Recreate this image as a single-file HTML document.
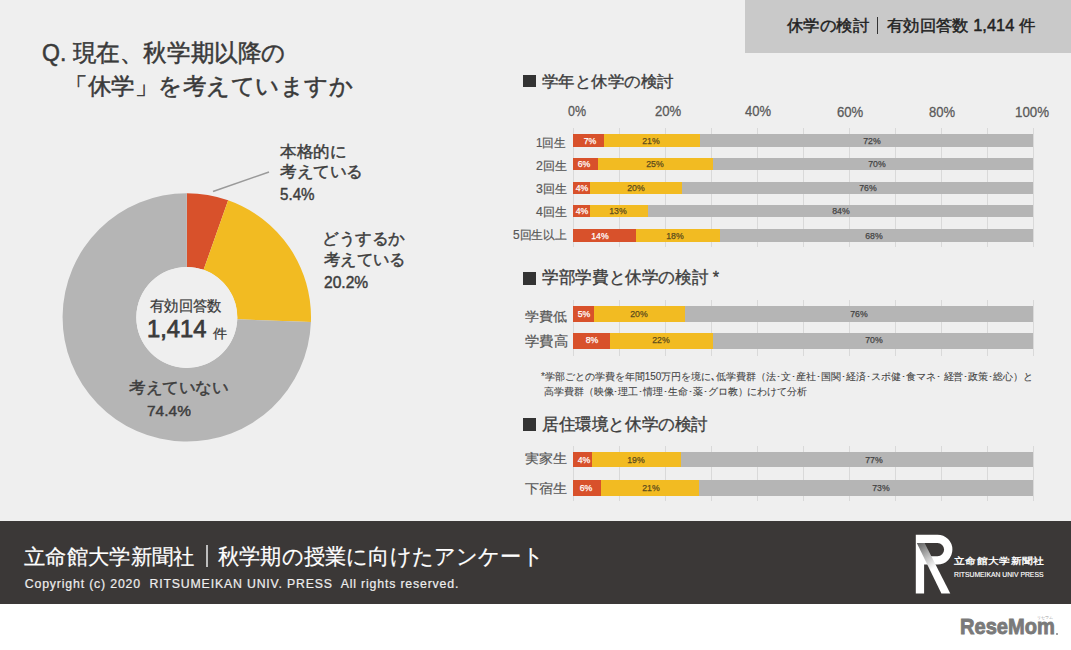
<!DOCTYPE html>
<html lang="ja"><head><meta charset="utf-8">
<style>
html,body{margin:0;padding:0}
body{width:1071px;height:650px;position:relative;overflow:hidden;background:#fff;font-family:"Liberation Sans",sans-serif;color:#3d3d3d}
.abs{position:absolute}
.tx{position:absolute;white-space:nowrap;line-height:1.3;transform-origin:0 0}
#main{position:absolute;left:0;top:0;width:1071px;height:521px;background:#efefef}
#hdr{}
.gl{position:absolute;width:1px;background:#d9d9d9}
.bar{position:absolute;left:573.3px;width:460.20px}
.seg{position:absolute;top:0;height:100%}
.bl{position:absolute;width:60px;text-align:center;white-space:nowrap;font-size:9.4px;transform:scaleX(0.93);-webkit-text-stroke:0.25px currentColor}
.r{background:#d8512b}
.y{background:#f2bb22}
.g{background:#b5b5b5}
.rt{color:#fff}
.yt{color:#5c4b1c}
.gt{color:#444}
.sq{position:absolute;left:523px;width:13px;height:12.6px;background:#333}
#foot{position:absolute;left:0;top:521px;width:1071px;height:82.5px;background:#3b3837}
</style></head><body>
<div id="main"></div>
<div class="abs" style="left:745px;top:0;width:326px;height:53px;background:#c9c9c9"></div>
<svg class="abs" style="left:0;top:0" width="1071" height="650"><path d="M186.80,193.20 A124.2,124.2 0 0 1 228.14,200.28 L203.61,269.78 A50.5,50.5 0 0 0 186.80,266.90 Z" fill="#d8512b"/><path d="M228.14,200.28 A124.2,124.2 0 0 1 310.91,322.08 L237.26,319.30 A50.5,50.5 0 0 0 203.61,269.78 Z" fill="#f2bb22"/><path d="M310.91,322.08 A124.2,124.2 0 1 1 186.80,193.20 L186.80,266.90 A50.5,50.5 0 1 0 237.26,319.30 Z" fill="#b5b5b5"/><circle cx="186.8" cy="317.4" r="50.5" fill="#efefef"/><line x1="213" y1="191.5" x2="269" y2="172" stroke="#9a9a9a" stroke-width="1.6"/></svg>
<div class="sq" style="top:74.5px"></div>
<div class="sq" style="top:272px"></div>
<div class="sq" style="top:418px"></div>
<div class="gl" style="left:572.80px;top:128.4px;height:118.8px"></div><div class="gl" style="left:618.82px;top:128.4px;height:118.8px"></div><div class="gl" style="left:664.84px;top:128.4px;height:118.8px"></div><div class="gl" style="left:710.86px;top:128.4px;height:118.8px"></div><div class="gl" style="left:756.88px;top:128.4px;height:118.8px"></div><div class="gl" style="left:802.90px;top:128.4px;height:118.8px"></div><div class="gl" style="left:848.92px;top:128.4px;height:118.8px"></div><div class="gl" style="left:894.94px;top:128.4px;height:118.8px"></div><div class="gl" style="left:940.96px;top:128.4px;height:118.8px"></div><div class="gl" style="left:986.98px;top:128.4px;height:118.8px"></div><div class="gl" style="left:1033.00px;top:128.4px;height:118.8px"></div>
<div class="gl" style="left:572.80px;top:300.0px;height:55.8px"></div><div class="gl" style="left:618.82px;top:300.0px;height:55.8px"></div><div class="gl" style="left:664.84px;top:300.0px;height:55.8px"></div><div class="gl" style="left:710.86px;top:300.0px;height:55.8px"></div><div class="gl" style="left:756.88px;top:300.0px;height:55.8px"></div><div class="gl" style="left:802.90px;top:300.0px;height:55.8px"></div><div class="gl" style="left:848.92px;top:300.0px;height:55.8px"></div><div class="gl" style="left:894.94px;top:300.0px;height:55.8px"></div><div class="gl" style="left:940.96px;top:300.0px;height:55.8px"></div><div class="gl" style="left:986.98px;top:300.0px;height:55.8px"></div><div class="gl" style="left:1033.00px;top:300.0px;height:55.8px"></div>
<div class="gl" style="left:572.80px;top:445.7px;height:55.7px"></div><div class="gl" style="left:618.82px;top:445.7px;height:55.7px"></div><div class="gl" style="left:664.84px;top:445.7px;height:55.7px"></div><div class="gl" style="left:710.86px;top:445.7px;height:55.7px"></div><div class="gl" style="left:756.88px;top:445.7px;height:55.7px"></div><div class="gl" style="left:802.90px;top:445.7px;height:55.7px"></div><div class="gl" style="left:848.92px;top:445.7px;height:55.7px"></div><div class="gl" style="left:894.94px;top:445.7px;height:55.7px"></div><div class="gl" style="left:940.96px;top:445.7px;height:55.7px"></div><div class="gl" style="left:986.98px;top:445.7px;height:55.7px"></div><div class="gl" style="left:1033.00px;top:445.7px;height:55.7px"></div>
<div class="bar" style="top:134.40px;height:12.30px"><div class="seg r" style="left:0.00px;width:30.50px"></div><div class="seg y" style="left:30.50px;width:96.60px"></div><div class="seg g" style="left:127.10px;width:333.10px"></div></div><div class="bl rt" style="left:559.60px;top:135.10px;height:12.30px;line-height:12.30px">7%</div><div class="bl yt" style="left:620.50px;top:135.10px;height:12.30px;line-height:12.30px">21%</div><div class="bl gt" style="left:841.90px;top:135.10px;height:12.30px;line-height:12.30px">72%</div><div class="bar" style="top:157.50px;height:12.30px"><div class="seg r" style="left:0.00px;width:24.70px"></div><div class="seg y" style="left:24.70px;width:115.40px"></div><div class="seg g" style="left:140.10px;width:320.10px"></div></div><div class="bl rt" style="left:553.90px;top:158.20px;height:12.30px;line-height:12.30px">6%</div><div class="bl yt" style="left:625.30px;top:158.20px;height:12.30px;line-height:12.30px">25%</div><div class="bl gt" style="left:847.40px;top:158.20px;height:12.30px;line-height:12.30px">70%</div><div class="bar" style="top:181.50px;height:12.50px"><div class="seg r" style="left:0.00px;width:16.90px"></div><div class="seg y" style="left:16.90px;width:92.30px"></div><div class="seg g" style="left:109.20px;width:351.00px"></div></div><div class="bl rt" style="left:551.60px;top:182.20px;height:12.50px;line-height:12.50px">4%</div><div class="bl yt" style="left:606.20px;top:182.20px;height:12.50px;line-height:12.50px">20%</div><div class="bl gt" style="left:838.10px;top:182.20px;height:12.50px;line-height:12.50px">76%</div><div class="bar" style="top:204.50px;height:12.50px"><div class="seg r" style="left:0.00px;width:16.90px"></div><div class="seg y" style="left:16.90px;width:57.80px"></div><div class="seg g" style="left:74.70px;width:385.50px"></div></div><div class="bl rt" style="left:551.60px;top:205.20px;height:12.50px;line-height:12.50px">4%</div><div class="bl yt" style="left:588.30px;top:205.20px;height:12.50px;line-height:12.50px">13%</div><div class="bl gt" style="left:810.50px;top:205.20px;height:12.50px;line-height:12.50px">84%</div><div class="bar" style="top:228.50px;height:13.00px"><div class="seg r" style="left:0.00px;width:62.30px"></div><div class="seg y" style="left:62.30px;width:84.50px"></div><div class="seg g" style="left:146.80px;width:313.40px"></div></div><div class="bl rt" style="left:570.40px;top:229.20px;height:13.00px;line-height:13.00px">14%</div><div class="bl yt" style="left:644.90px;top:229.20px;height:13.00px;line-height:13.00px">18%</div><div class="bl gt" style="left:844.30px;top:229.20px;height:13.00px;line-height:13.00px">68%</div>
<div class="bar" style="top:306.00px;height:15.70px"><div class="seg r" style="left:0.00px;width:20.90px"></div><div class="seg y" style="left:20.90px;width:90.40px"></div><div class="seg g" style="left:111.30px;width:348.90px"></div></div><div class="bl rt" style="left:554.20px;top:305.50px;height:15.70px;line-height:15.70px">5%</div><div class="bl yt" style="left:608.50px;top:305.50px;height:15.70px;line-height:15.70px">20%</div><div class="bl gt" style="left:828.80px;top:305.50px;height:15.70px;line-height:15.70px">76%</div><div class="bar" style="top:332.90px;height:15.70px"><div class="seg r" style="left:0.00px;width:36.70px"></div><div class="seg y" style="left:36.70px;width:103.40px"></div><div class="seg g" style="left:140.10px;width:320.10px"></div></div><div class="bl rt" style="left:562.10px;top:332.40px;height:15.70px;line-height:15.70px">8%</div><div class="bl yt" style="left:631.40px;top:332.40px;height:15.70px;line-height:15.70px">22%</div><div class="bl gt" style="left:844.20px;top:332.40px;height:15.70px;line-height:15.70px">70%</div>
<div class="bar" style="top:451.80px;height:15.70px"><div class="seg r" style="left:0.00px;width:18.30px"></div><div class="seg y" style="left:18.30px;width:89.90px"></div><div class="seg g" style="left:108.20px;width:352.00px"></div></div><div class="bl rt" style="left:553.80px;top:452.10px;height:15.70px;line-height:15.70px">4%</div><div class="bl yt" style="left:606.30px;top:452.10px;height:15.70px;line-height:15.70px">19%</div><div class="bl gt" style="left:844.20px;top:452.10px;height:15.70px;line-height:15.70px">77%</div><div class="bar" style="top:480.00px;height:15.70px"><div class="seg r" style="left:0.00px;width:27.70px"></div><div class="seg y" style="left:27.70px;width:97.80px"></div><div class="seg g" style="left:125.50px;width:334.70px"></div></div><div class="bl rt" style="left:556.20px;top:480.30px;height:15.70px;line-height:15.70px">6%</div><div class="bl yt" style="left:620.50px;top:480.30px;height:15.70px;line-height:15.70px">21%</div><div class="bl gt" style="left:851.40px;top:480.30px;height:15.70px;line-height:15.70px">73%</div>
<div id="foot"></div>
<div class="abs" style="left:877px;top:17px;width:1.2px;height:16.8px;background:#333"></div>
<div class="abs" style="left:206.3px;top:545px;width:1.5px;height:21.8px;background:#bdbdbd"></div>
<div class="abs" style="left:1037px;top:615px;font-size:4px;line-height:5px;color:#999;white-space:nowrap">リセマム</div>
<div class="abs" style="left:1055.8px;top:633.2px;width:2.3px;height:2.3px;border-radius:1px;background:#858585"></div>
<svg class="abs" style="left:905px;top:525px" width="150" height="75">
<defs><linearGradient id="lg" gradientUnits="userSpaceOnUse" x1="12" y1="18" x2="30" y2="42"><stop offset="0" stop-color="#606060"/><stop offset="1" stop-color="#fff"/></linearGradient></defs>
<path d="M10.8,9.7 h21.7 a14.9,14.9 0 0 1 0,29.8 h-13.4 v-8.3 h13.4 a6.6,6.6 0 0 0 0,-13.2 h-13.4 v50.6 h-8.3 z" fill="#fff"/>
<path d="M11.8,18 h7.8 l25.7,50.6 h-8.9 z" fill="url(#lg)"/>
</svg>
<div class="tx" id="hdr1" style="left:787.00px;top:15.12px;font-size:16.03px;transform:scaleX(1.0252);color:#222;-webkit-text-stroke:0.45px #222">休学の検討</div>
<div class="tx" id="hdr2" style="left:887.20px;top:15.06px;font-size:16.13px;transform:scaleX(1.0206);color:#222;-webkit-text-stroke:0.45px #222">有効回答数 1,414 件</div>
<div class="tx" id="t1" style="left:42.19px;top:38.36px;font-size:23.52px;transform:scaleX(0.9817);color:#3a3a3a;-webkit-text-stroke:0.5px #3a3a3a">Q. 現在、秋学期以降の</div>
<div class="tx" id="t2" style="left:64.44px;top:70.91px;font-size:23.46px;transform:scaleX(1.0224);color:#3a3a3a;-webkit-text-stroke:0.5px #3a3a3a">「休学」を考えていますか</div>
<div class="tx" id="l1a" style="left:279.98px;top:142.31px;font-size:16.01px;transform:scaleX(1.0317);color:#3d3d3d;-webkit-text-stroke:0.45px #3d3d3d">本格的に</div>
<div class="tx" id="l1b" style="left:279.98px;top:160.75px;font-size:16.10px;transform:scaleX(1.0385);color:#3d3d3d;-webkit-text-stroke:0.45px #3d3d3d">考えている</div>
<div class="tx" id="l1c" style="left:280.00px;top:184.00px;font-size:16.50px;transform:scaleX(0.9189);color:#3d3d3d;-webkit-text-stroke:0.45px #3d3d3d">5.4%</div>
<div class="tx" id="l2a" style="left:322.16px;top:228.06px;font-size:16.26px;transform:scaleX(1.0385);color:#3d3d3d;-webkit-text-stroke:0.45px #3d3d3d">どうするか</div>
<div class="tx" id="l2b" style="left:323.98px;top:250.42px;font-size:16.00px;transform:scaleX(1.0195);color:#3d3d3d;-webkit-text-stroke:0.45px #3d3d3d">考えている</div>
<div class="tx" id="l2c" style="left:323.78px;top:272.60px;font-size:15.69px;transform:scaleX(0.9930);color:#3d3d3d;-webkit-text-stroke:0.45px #3d3d3d">20.2%</div>
<div class="tx" id="l3a" style="left:129.00px;top:377.10px;font-size:16.19px;transform:scaleX(1.0369);color:#3d3d3d;-webkit-text-stroke:0.45px #3d3d3d">考えていない</div>
<div class="tx" id="l3b" style="left:147.39px;top:401.08px;font-size:15.15px;transform:scaleX(1.0228);color:#3d3d3d;-webkit-text-stroke:0.45px #3d3d3d">74.4%</div>
<div class="tx" id="c1" style="left:150.21px;top:296.93px;font-size:14.67px;transform:scaleX(0.9534);color:#3a3a3a;-webkit-text-stroke:0.25px #3a3a3a">有効回答数</div>
<div class="tx" id="c2" style="left:146.80px;top:313.20px;font-size:24.50px;transform:scaleX(0.9700);color:#3a3a3a;-webkit-text-stroke:0.75px #3a3a3a">1,414</div>
<div class="tx" id="c3" style="left:213.24px;top:324.65px;font-size:13.40px;transform:scaleX(1.0806);color:#3a3a3a;-webkit-text-stroke:0.25px #3a3a3a">件</div>
<div class="tx" id="ct1" style="left:542.19px;top:70.53px;font-size:16.47px;transform:scaleX(1.0311);color:#3d3d3d;-webkit-text-stroke:0.35px #3d3d3d">学年と休学の検討</div>
<div class="tx" id="ct2" style="left:542.41px;top:267.49px;font-size:16.52px;transform:scaleX(0.9781);color:#3d3d3d;-webkit-text-stroke:0.35px #3d3d3d">学部学費と休学の検討 *</div>
<div class="tx" id="ct3" style="left:542.41px;top:414.48px;font-size:16.56px;transform:scaleX(0.9768);color:#3d3d3d;-webkit-text-stroke:0.35px #3d3d3d">居住環境と休学の検討</div>
<div class="tx" id="ax0" style="left:567.83px;top:102.32px;font-size:14.28px;transform:scaleX(0.8740);color:#5a5a5a;-webkit-text-stroke:0.3px #5a5a5a">0%</div>
<div class="tx" id="ax1" style="left:654.61px;top:102.32px;font-size:14.28px;transform:scaleX(0.9184);color:#5a5a5a;-webkit-text-stroke:0.3px #5a5a5a">20%</div>
<div class="tx" id="ax2" style="left:744.99px;top:102.32px;font-size:14.28px;transform:scaleX(0.9114);color:#5a5a5a;-webkit-text-stroke:0.3px #5a5a5a">40%</div>
<div class="tx" id="ax3" style="left:837.40px;top:103.03px;font-size:14.57px;transform:scaleX(0.9005);color:#5a5a5a;-webkit-text-stroke:0.3px #5a5a5a">60%</div>
<div class="tx" id="ax4" style="left:929.19px;top:103.03px;font-size:14.57px;transform:scaleX(0.8935);color:#5a5a5a;-webkit-text-stroke:0.3px #5a5a5a">80%</div>
<div class="tx" id="ax5" style="left:1014.65px;top:103.03px;font-size:14.57px;transform:scaleX(0.9121);color:#5a5a5a;-webkit-text-stroke:0.3px #5a5a5a">100%</div>
<div class="tx" id="r1" style="left:536.34px;top:135.61px;font-size:11.89px;transform:scaleX(0.9699);color:#575757;-webkit-text-stroke:0.2px #575757">1回生</div>
<div class="tx" id="r2" style="left:536.36px;top:158.86px;font-size:12.28px;transform:scaleX(1.0024);color:#575757;-webkit-text-stroke:0.2px #575757">2回生</div>
<div class="tx" id="r3" style="left:536.36px;top:181.60px;font-size:12.28px;transform:scaleX(1.0024);color:#575757;-webkit-text-stroke:0.2px #575757">3回生</div>
<div class="tx" id="r4" style="left:536.36px;top:205.40px;font-size:12.28px;transform:scaleX(1.0024);color:#575757;-webkit-text-stroke:0.2px #575757">4回生</div>
<div class="tx" id="r5" style="left:513.00px;top:228.34px;font-size:12.16px;transform:scaleX(0.9833);color:#575757;-webkit-text-stroke:0.2px #575757">5回生以上</div>
<div class="tx" id="r6" style="left:525.00px;top:307.84px;font-size:13.41px;transform:scaleX(1.0773);color:#575757;-webkit-text-stroke:0.2px #575757">学費低</div>
<div class="tx" id="r7" style="left:525.00px;top:332.63px;font-size:13.58px;transform:scaleX(1.0263);color:#575757;-webkit-text-stroke:0.2px #575757">学費高</div>
<div class="tx" id="r8" style="left:525.00px;top:450.44px;font-size:13.41px;transform:scaleX(1.0773);color:#575757;-webkit-text-stroke:0.2px #575757">実家生</div>
<div class="tx" id="r9" style="left:525.00px;top:480.24px;font-size:13.41px;transform:scaleX(1.0773);color:#575757;-webkit-text-stroke:0.2px #575757">下宿生</div>
<div class="tx" id="fn1" style="left:541.20px;top:370.51px;font-size:9.99px;transform:scaleX(0.9980);color:#444;-webkit-text-stroke:0.1px #444">*学部ごとの学費を年間150万円を境に､低学費群（法･文･産社･国関･経済･スポ健･食マネ･ 経営･政策･総心）と</div>
<div class="tx" id="fn2" style="left:544.42px;top:386.17px;font-size:9.90px;transform:scaleX(0.9924);color:#444;-webkit-text-stroke:0.1px #444">高学費群（映像･理工･情理･生命･薬･グロ教）にわけて分析</div>
<div class="tx" id="ft1a" style="left:24.40px;top:544.28px;font-size:21.26px;transform:scaleX(1.0149);color:#fff;-webkit-text-stroke:0.2px #fff">立命館大学新聞社</div>
<div class="tx" id="ft1b" style="left:217.60px;top:542.98px;font-size:21.65px;transform:scaleX(0.9638);color:#fff;-webkit-text-stroke:0.2px #fff">秋学期の授業に向けたアンケート</div>
<div class="tx" id="ft2" style="left:24.80px;top:576.80px;font-size:12.30px;letter-spacing:0.834px;color:#eee;-webkit-text-stroke:0.2px #eee">Copyright (c) 2020&nbsp; RITSUMEIKAN UNIV. PRESS&nbsp; All rights reserved.</div>
<div class="tx" id="lg1" style="left:954.44px;top:555.92px;font-size:8.58px;transform:scaleX(1.1946);color:#fff;letter-spacing:0.5px;-webkit-text-stroke:0.35px #fff">立命館大学新聞社</div>
<div class="tx" id="lg2" style="left:954.40px;top:569.92px;font-size:7.43px;transform:scaleX(0.9153);color:#fff;-webkit-text-stroke:0.15px #fff">RITSUMEIKAN UNIV PRESS</div>
<div class="tx" id="rm" style="left:959.56px;top:612.14px;font-size:22.58px;transform:scaleX(0.8896);color:#7a7a7a;font-weight:bold;-webkit-text-stroke:0.9px #7a7a7a">ReseMom</div>

</body></html>
